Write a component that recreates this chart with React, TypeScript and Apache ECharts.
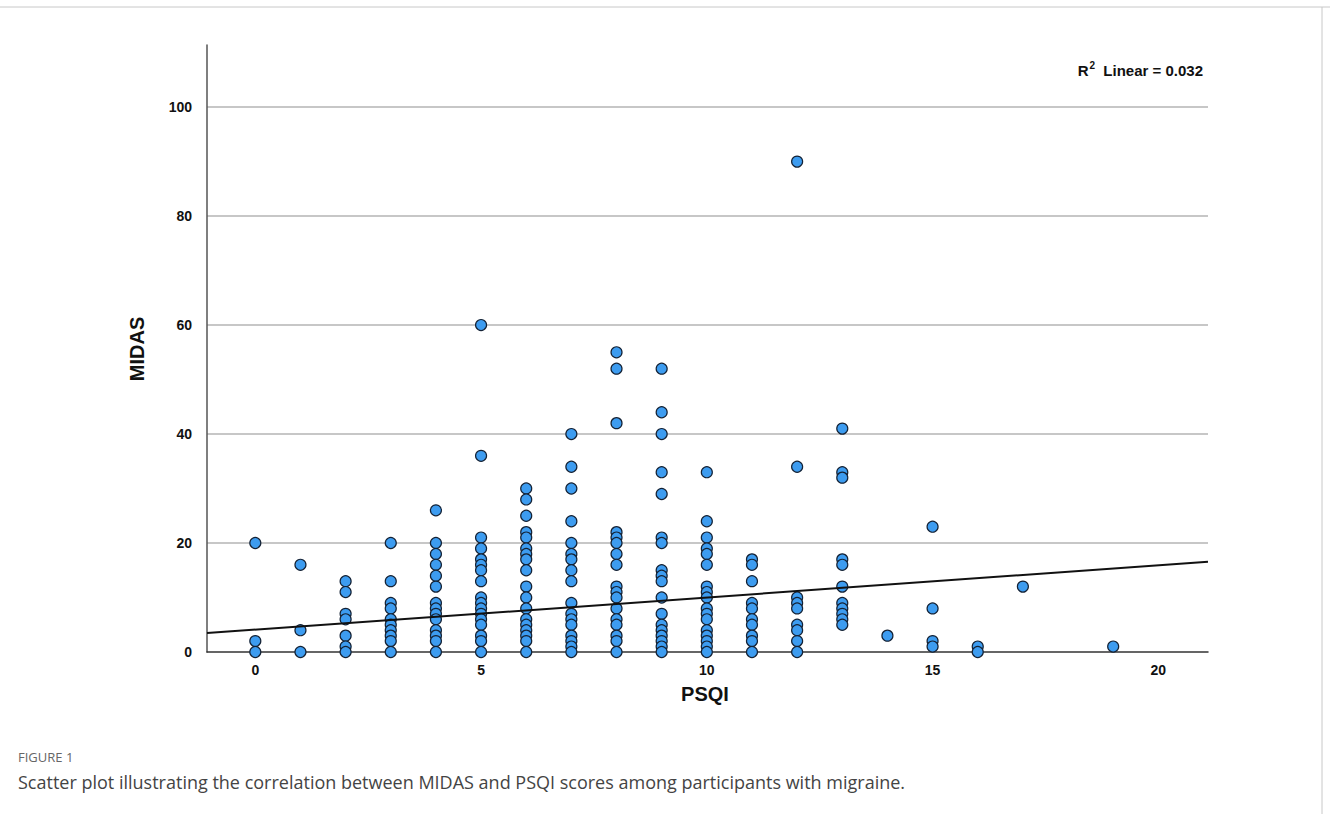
import React, { useEffect, useRef } from "react";
import * as echarts from "echarts";

// MIDAS values per PSQI score
const psqiScores = [0, 1, 2, 3, 4, 5, 6, 7, 8, 9, 10, 11, 12, 13, 14, 15, 16, 17, 19];
const midasByPsqi: number[][] = [
  [20, 2, 0],
  [16, 4, 0],
  [13, 11, 7, 6, 3, 1, 0],
  [20, 13, 9, 8, 6, 5, 4, 3, 2, 0],
  [26, 20, 18, 16, 14, 12, 9, 8, 7, 6, 4, 3, 2, 0],
  [60, 36, 21, 19, 17, 16, 15, 13, 10, 9, 8, 7, 6, 5, 3, 2, 0],
  [30, 28, 25, 22, 21, 19, 18, 17, 15, 12, 10, 8, 6, 5, 4, 3, 2, 0],
  [40, 34, 30, 24, 20, 18, 17, 15, 13, 9, 7, 6, 5, 3, 2, 1, 0],
  [55, 52, 42, 22, 21, 20, 18, 16, 12, 11, 10, 8, 6, 5, 3, 2, 0],
  [52, 44, 40, 33, 29, 21, 20, 15, 14, 13, 10, 7, 5, 4, 3, 2, 1, 0],
  [33, 24, 21, 19, 18, 16, 12, 11, 10, 8, 7, 6, 4, 3, 2, 1, 0],
  [17, 16, 13, 9, 8, 6, 5, 3, 2, 0],
  [90, 34, 10, 9, 8, 5, 4, 2, 0],
  [41, 33, 32, 17, 16, 12, 9, 8, 7, 6, 5],
  [3],
  [23, 8, 2, 1],
  [1, 0],
  [12],
  [1],
];
const xTickLabels = [0, 5, 10, 15, 20];
const fitIntercept = 4.1;
const fitSlope = 0.59;
const xMin = -1.07;
const xMax = 21.1;
const yMax = 111.4;

export default function App() {
  const ref = useRef<HTMLDivElement>(null);
  useEffect(() => {
    if (!ref.current) return;
    const chart = echarts.init(ref.current, undefined, { renderer: "svg" });
    const points: number[][] = [];
    psqiScores.forEach((x, i) => midasByPsqi[i].forEach((y) => points.push([x, y])));
    const fitLine = [
      [xMin, fitIntercept + fitSlope * xMin],
      [xMax, fitIntercept + fitSlope * xMax],
    ];
    const tickFont = { fontFamily: "Liberation Sans", fontWeight: "bold" as const, fontSize: 14, color: "#111" };
    chart.setOption({
      animation: false,
      backgroundColor: "#fff",
      grid: { left: 207, right: 122, top: 45, bottom: 162 },
      xAxis: {
        type: "value",
        min: xMin,
        max: xMax,
        axisLine: { show: true, onZero: false, lineStyle: { color: "#333", width: 1.5 } },
        axisTick: { show: false },
        splitLine: { show: false },
        axisLabel: { ...tickFont, margin: 11, customValues: xTickLabels },
      },
      yAxis: {
        type: "value",
        min: 0,
        max: yMax,
        interval: 20,
        axisLine: { show: true, onZero: false, lineStyle: { color: "#555", width: 1.5 } },
        axisTick: { show: false },
        splitLine: { show: true, showMaxLine: false, showMinLine: false, lineStyle: { color: "#b5b5b5", width: 1.5 } },
        axisLabel: { ...tickFont, margin: 15, showMaxLabel: false },
      },
      series: [
        {
          type: "scatter",
          data: points,
          symbol: "circle",
          symbolSize: 11,
          itemStyle: { color: "#3d9cf0", borderColor: "#142235", borderWidth: 1.2, opacity: 1 },
          z: 2,
        },
        {
          type: "line",
          data: fitLine,
          showSymbol: false,
          symbol: "none",
          lineStyle: { color: "#111", width: 2 },
          z: 3,
        },
      ],
      graphic: [
        { type: "line", shape: { x1: 0, y1: 7, x2: 1330, y2: 7 }, style: { stroke: "#c8c8c8", lineWidth: 1 } },
        { type: "line", shape: { x1: 1322, y1: 7, x2: 1322, y2: 814 }, style: { stroke: "#c8c8c8", lineWidth: 1 } },
        {
          type: "text",
          right: 127,
          top: 60,
          style: {
            text: "{b|R}{s|2}{b|  Linear = 0.032}",
            rich: {
              b: { fontFamily: "Liberation Sans", fontWeight: "bold", fontSize: 15, fill: "#111", verticalAlign: "bottom" },
              s: { fontFamily: "Liberation Sans", fontWeight: "bold", fontSize: 10, fill: "#111", verticalAlign: "top", padding: [0, 0, 8, 1] },
            },
          },
        },
        {
          type: "text",
          x: 137,
          y: 349,
          rotation: Math.PI / 2,
          style: {
            text: "MIDAS",
            fontFamily: "Liberation Sans",
            fontWeight: "bold",
            fontSize: 20,
            fill: "#111",
            align: "center",
            verticalAlign: "middle",
          },
        },
        {
          type: "text",
          x: 705,
          y: 694,
          style: {
            text: "PSQI",
            fontFamily: "Liberation Sans",
            fontWeight: "bold",
            fontSize: 20,
            fill: "#111",
            align: "center",
            verticalAlign: "middle",
          },
        },
        {
          type: "text",
          x: 18,
          y: 757,
          style: { text: "FIGURE 1", fontFamily: "Open Sans", fontSize: 13, fill: "#666", verticalAlign: "middle" },
        },
        {
          type: "text",
          x: 18,
          y: 782,
          style: {
            text: "Scatter plot illustrating the correlation between MIDAS and PSQI scores among participants with migraine.",
            fontFamily: "Open Sans",
            fontSize: 18,
            fill: "#444",
            verticalAlign: "middle",
          },
        },
      ],
    });
    return () => chart.dispose();
  }, []);
  return <div ref={ref} style={{ position: "fixed", left: 0, top: 0, width: 1330, height: 814 }} />;
}
